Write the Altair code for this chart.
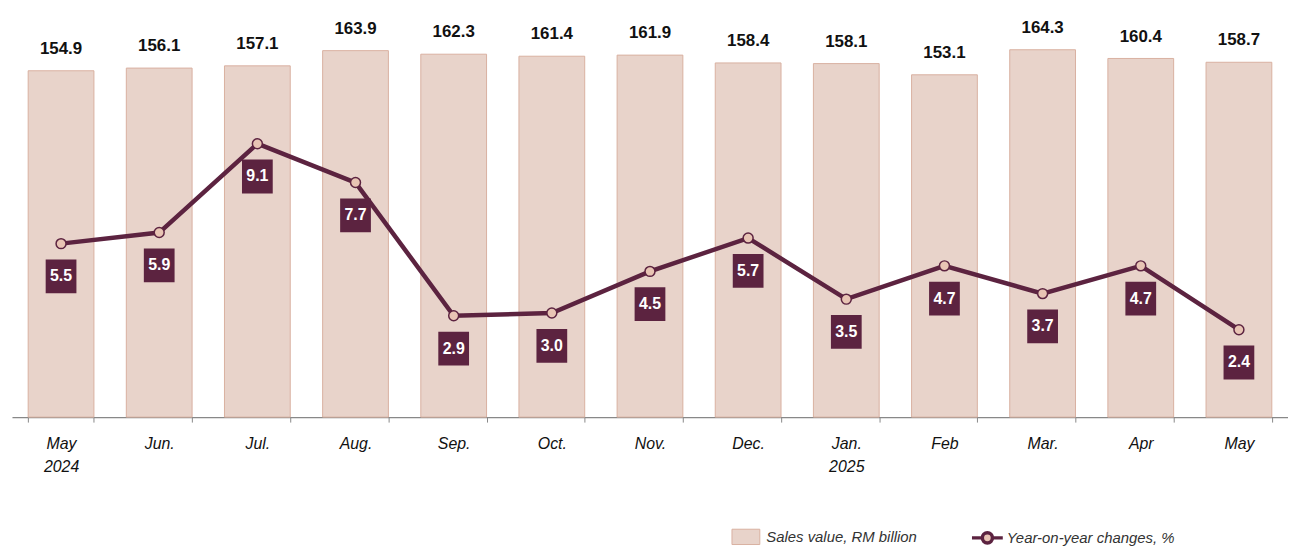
import altair as alt
import pandas as pd

months = ["May|2024", "Jun.", "Jul.", "Aug.", "Sep.", "Oct.", "Nov.", "Dec.",
          "Jan.|2025", "Feb", "Mar.", "Apr", "May"]
sales = [154.9, 156.1, 157.1, 163.9, 162.3, 161.4, 161.9, 158.4, 158.1, 153.1, 164.3, 160.4, 158.7]
yoy = [5.5, 5.9, 9.1, 7.7, 2.9, 3.0, 4.5, 5.7, 3.5, 4.7, 3.7, 4.7, 2.4]
bar_name = "Sales value, RM billion"
line_name = "Year-on-year changes, %"

df = pd.DataFrame({"month": months, "sales": sales, "yoy": yoy,
                   "s": bar_name, "l": line_name})

FONT = "Liberation Sans, Arial, sans-serif"
MAROON = "#5c2340"
BARFILL = "#e8d3ca"
BARSTROKE = "#d9b0a0"
PTFILL = "#e8c4b4"

x = alt.X("month:N", sort=months, title=None,
          scale=alt.Scale(paddingInner=0.33, paddingOuter=0.165),
          axis=alt.Axis(labelExpr="split(datum.label, '|')", labelAngle=0,
                        labelFont=FONT, labelFontSize=16, labelFontStyle="italic",
                        labelColor="#111", labelPadding=14, labelLineHeight=23,
                        tickBand="extent", tickSize=5, tickColor="#888",
                        domainColor="#888", domainWidth=1.5, grid=False))

ybar = alt.Y("sales:Q", scale=alt.Scale(domain=[0, 180], nice=False, zero=True), axis=None)
yline = alt.Y("yoy:Q", scale=alt.Scale(domain=[-0.75, 13.75], nice=False, zero=False), axis=None)

base = alt.Chart(df)

bars = base.mark_bar(color=BARFILL, stroke=BARSTROKE, strokeWidth=1).encode(
    x=x, y=ybar,
    fill=alt.Fill("s:N", scale=alt.Scale(domain=[bar_name], range=[BARFILL]),
                  legend=alt.Legend(title=None, orient="none", legendX=724, legendY=511,
                                    symbolType="M-1,-0.55H1V0.55H-1Z", symbolSize=784,
                                    symbolStrokeColor=BARSTROKE, symbolStrokeWidth=1,
                                    labelFont=FONT, labelFontSize=15, labelFontStyle="italic",
                                    labelColor="#333", labelOffset=6, labelLimit=0, padding=0)))

bar_text = base.mark_text(font=FONT, fontSize=17, fontWeight="bold", color="#111",
                          dy=-22, baseline="middle").encode(
    x=alt.X("month:N", sort=months), y=ybar, text=alt.Text("sales:Q", format=".1f"))

bar_layer = alt.layer(bars, bar_text)

line = base.mark_line(strokeWidth=4.5).encode(
    x=alt.X("month:N", sort=months), y=yline,
    stroke=alt.Stroke("l:N", scale=alt.Scale(domain=[line_name], range=[MAROON]),
                      legend=alt.Legend(title=None, orient="none", legendX=964, legendY=509,
                                        symbolType="M-1,0H-0.33M0.33,0H1M-0.33,0A0.33,0.33 0 1,1 0.33,0A0.33,0.33 0 1,1 -0.33,0Z",
                                        symbolSize=961, symbolStrokeWidth=3.5,
                                        symbolFillColor=PTFILL,
                                        labelFont=FONT, labelFontSize=15, labelFontStyle="italic",
                                        labelColor="#333", labelOffset=2, labelLimit=0, padding=0)))

points = base.mark_point(filled=True, fill=PTFILL, stroke=MAROON, strokeWidth=1.5,
                         size=100, opacity=1, shape="circle").encode(
    x=alt.X("month:N", sort=months), y=yline)

boxes = base.mark_point(filled=True, color=MAROON, opacity=1, size=1156,
                        shape="M-0.91,-1H0.91V1H-0.91Z", yOffset=33).encode(
    x=alt.X("month:N", sort=months), y=yline)

box_text = base.mark_text(font=FONT, fontSize=16, fontWeight="bold", color="white",
                          dy=33, baseline="middle").encode(
    x=alt.X("month:N", sort=months), y=yline, text=alt.Text("yoy:Q", format=".1f"))

line_layer = alt.layer(line, points, boxes, box_text)

chart = alt.layer(bar_layer, line_layer).resolve_scale(
    y="independent", fill="independent", stroke="independent"
).properties(
    width=1284, height=405,
    autosize=alt.AutoSizeParams(type="none"),
    padding={"left": 4, "top": 5, "right": 0, "bottom": 128},
).configure_view(stroke=None)

chart.save("out.html", embed_options={"renderer": "svg", "actions": False})
